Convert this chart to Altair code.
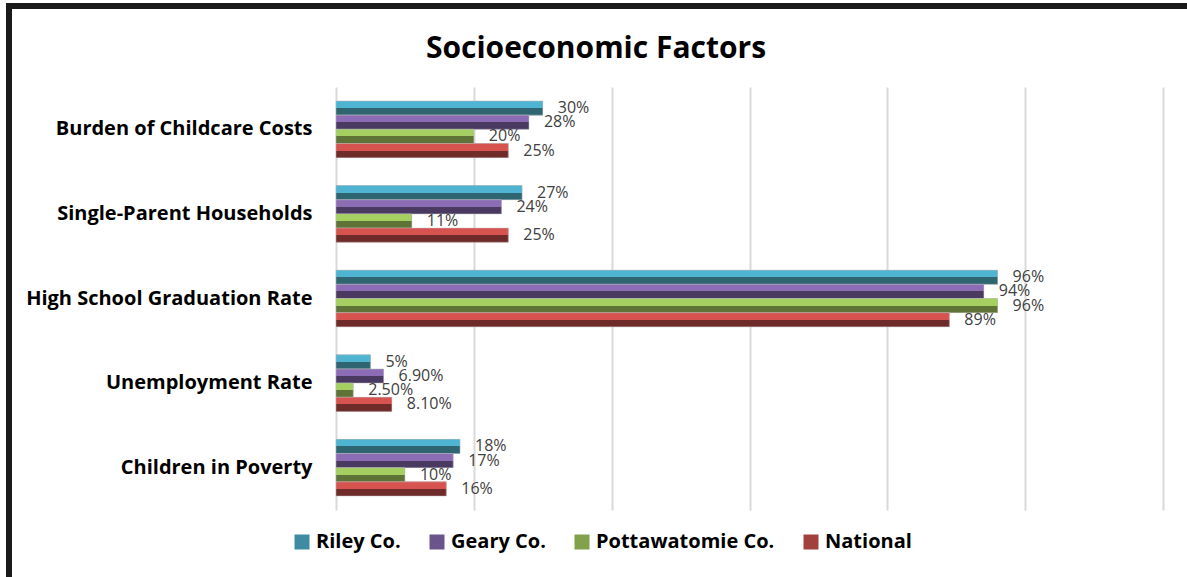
import altair as alt
import pandas as pd

categories = ["Burden of Childcare Costs", "Single-Parent Households",
              "High School Graduation Rate", "Unemployment Rate", "Children in Poverty"]
series = ["Riley Co.", "Geary Co.", "Pottawatomie Co.", "National"]
riley = [30, 27, 96, 5, 18]
geary = [28, 24, 94, 6.9, 17]
pottawatomie = [20, 11, 96, 2.5, 10]
national = [25, 25, 89, 8.1, 16]
riley_lbl = ["30%", "27%", "96%", "5%", "18%"]
geary_lbl = ["28%", "24%", "94%", "6.90%", "17%"]
pott_lbl = ["20%", "11%", "96%", "2.50%", "10%"]
nat_lbl = ["25%", "25%", "89%", "8.10%", "16%"]
title_text = "Socioeconomic Factors"

light = ["#4fb3d2", "#8c6db5", "#a6cf62", "#d6534f"]
dark = ["#2f6571", "#4a3a62", "#5e7335", "#6e2b2a"]
mid = ["#3f8ca2", "#6b548c", "#82a14b", "#a2403d"]

rows = []
for s, vals, lbls in zip(series, [riley, geary, pottawatomie, national],
                         [riley_lbl, geary_lbl, pott_lbl, nat_lbl]):
    for c, v, l in zip(categories, vals, lbls):
        rows.append({"category": c, "series": s, "value": v, "label": l})
df = pd.DataFrame(rows)

FONT = "Open Sans"
W, H = 827, 423

y_enc = alt.Y("category:N", sort=categories, title=None,
              scale=alt.Scale(paddingInner=0.33, paddingOuter=0.165),
              axis=alt.Axis(domain=False, ticks=False, labelPadding=24, grid=False,
                            labelFont=FONT, labelFontSize=20, labelFontWeight="bold",
                            labelColor="#000000", labelLimit=400))
yoff = alt.YOffset("series:N", sort=series,
                   scale=alt.Scale(domain=series, paddingInner=0, paddingOuter=0))
x_enc = alt.X("value:Q", title=None,
              scale=alt.Scale(domain=[0, 120], nice=False),
              axis=alt.Axis(values=[0, 20, 40, 60, 80, 100, 120], labels=False,
                            ticks=False, domain=False, grid=True,
                            gridColor="#d9d9d9", gridWidth=2))

base = alt.Chart(df).mark_bar().encode(
    x=x_enc, y=y_enc, yOffset=yoff,
    color=alt.Color("series:N", sort=series,
                    scale=alt.Scale(domain=series, range=mid),
                    legend=alt.Legend(title=None, orient="none", direction="horizontal",
                                      legendX=-44, legendY=445,
                                      symbolType="square", symbolSize=225,
                                      symbolStrokeWidth=0, symbolOpacity=1,
                                      labelFont=FONT, labelFontSize=20,
                                      labelFontWeight="bold", labelColor="#000000",
                                      columnPadding=26, labelOffset=4,
                                      labelLimit=300))
)

layers = [base]
for s, lc, dc in zip(series, light, dark):
    grad = alt.Gradient(gradient="linear",
                        stops=[alt.GradientStop(color=lc, offset=0),
                               alt.GradientStop(color=lc, offset=0.5),
                               alt.GradientStop(color=dc, offset=0.5),
                               alt.GradientStop(color=dc, offset=1)],
                        x1=0, x2=0, y1=0, y2=1)
    layers.append(
        alt.Chart(df).transform_filter(alt.datum.series == s)
        .mark_bar(color=grad, stroke="#bfbfbf", strokeWidth=0.5)
        .encode(x=x_enc, y=y_enc, yOffset=yoff)
    )

text = alt.Chart(df).mark_text(align="left", baseline="middle", dx=15,
                               font=FONT, fontSize=16, color="#404040").encode(
    x=x_enc, y=y_enc, yOffset=yoff, text="label:N")
layers.append(text)

title_df = pd.DataFrame({"t": [title_text]})
title = alt.Chart(title_df).mark_text(font=FONT, fontSize=30, fontWeight="bold",
                                      color="#000000", align="center",
                                      baseline="alphabetic").encode(
    x=alt.value(260), y=alt.value(-29), text="t:N")
layers.append(title)

frame_df = pd.DataFrame({"a": [0]})
top_rule = alt.Chart(frame_df).mark_rule(color="#1a1a1a", strokeWidth=6).encode(
    x=alt.value(-330), x2=alt.value(860), y=alt.value(-81))
left_rule = alt.Chart(frame_df).mark_rule(color="#1a1a1a", strokeWidth=6).encode(
    x=alt.value(-327), y=alt.value(-84), y2=alt.value(500))
layers += [top_rule, left_rule]

chart = alt.layer(*layers).properties(
    width=W, height=H,
    autosize=alt.AutoSizeParams(type="none"),
    padding={"left": 336, "top": 87, "right": 24, "bottom": 67},
).configure_view(stroke=None, strokeWidth=0)

chart.save("out.html", embed_options={"renderer": "svg", "actions": False})
